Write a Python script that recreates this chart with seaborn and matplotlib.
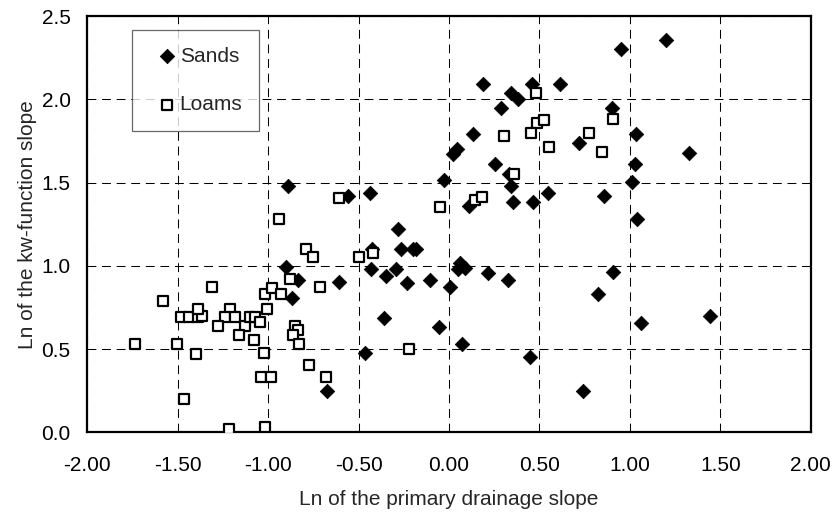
import matplotlib
matplotlib.use("Agg")
import matplotlib.pyplot as plt
import seaborn as sns
import pandas as pd

sands_x = [-0.89, -0.90, -0.835, -0.87, -0.675, -0.56, -0.435, -0.28, -0.425, -0.267,
           -0.20, -0.18, -0.433, -0.35, -0.296, -0.23, -0.106, 0.003, 0.06, 0.087,
           0.05, 0.213, 0.325, -0.608, -0.36, -0.053, 0.069, 0.447, -0.464, 1.20,
           0.952, 0.19, 0.46, 0.613, 0.34, 0.38, 0.287, 0.902, 0.133, 1.033,
           0.72, 1.325, 0.044, 0.023, 0.255, 1.028, -0.03, 1.01, 0.343, 0.111,
           0.355, 0.465, 0.548, 0.857, 1.041, 0.904, 0.821, 1.059, 1.442, 0.742,
           0.33]
sands_y = [1.48, 0.995, 0.915, 0.81, 0.25, 1.42, 1.435, 1.22, 1.10, 1.10,
           1.10, 1.10, 0.98, 0.94, 0.98, 0.90, 0.915, 0.875, 1.015, 0.99,
           0.98, 0.955, 0.915, 0.905, 0.69, 0.635, 0.53, 0.455, 0.475, 2.355,
           2.305, 2.09, 2.09, 2.09, 2.04, 2.00, 1.948, 1.948, 1.793, 1.792,
           1.74, 1.676, 1.704, 1.671, 1.61, 1.61, 1.517, 1.506, 1.481, 1.362,
           1.386, 1.386, 1.436, 1.42, 1.28, 0.965, 0.831, 0.655, 0.701, 0.251,
           1.55]

loams_x = [-0.94, -0.79, -0.75, -0.879, -0.716, -1.308, -1.58, -1.02, -0.977, -0.927,
           -1.005, -1.484, -1.436, -1.388, -1.366, -1.388, -1.212, -1.237, -1.186, -1.275,
           -1.128, -1.162, -1.099, -1.073, -1.044, -1.08, -1.023, -0.853, -0.835, -0.862,
           -0.829, -1.736, -1.504, -1.399, -0.775, -1.037, -0.986, -0.682, -1.467, -1.214,
           -1.019, -0.611, -0.42, -0.497, -0.221, -0.051, 0.143, 0.182, 0.357, 0.555,
           0.483, 0.904, 0.487, 0.524, 0.454, 0.302, 0.773, 0.847]
loams_y = [1.28, 1.10, 1.053, 0.92, 0.875, 0.875, 0.789, 0.83, 0.868, 0.832,
           0.742, 0.691, 0.691, 0.691, 0.699, 0.744, 0.744, 0.691, 0.691, 0.639,
           0.639, 0.586, 0.691, 0.691, 0.665, 0.553, 0.48, 0.642, 0.615, 0.587,
           0.53, 0.529, 0.53, 0.469, 0.404, 0.333, 0.333, 0.333, 0.201, 0.023,
           0.031, 1.41, 1.079, 1.052, 0.499, 1.356, 1.394, 1.415, 1.552, 1.714,
           2.036, 1.88, 1.858, 1.876, 1.798, 1.782, 1.80, 1.684]

x_ticks = [-2.0, -1.5, -1.0, -0.5, 0.0, 0.5, 1.0, 1.5, 2.0]
y_ticks = [0.0, 0.5, 1.0, 1.5, 2.0, 2.5]

df = pd.concat([
    pd.DataFrame({"x": sands_x, "y": sands_y, "soil": "Sands"}),
    pd.DataFrame({"x": loams_x, "y": loams_y, "soil": "Loams"}),
], ignore_index=True)

sns.set_style("white")
plt.rcParams["font.family"] = ["Liberation Sans", "DejaVu Sans"]

FS = 15
fig = plt.figure(figsize=(8.37, 5.17), dpi=100)
ax = fig.add_axes([0.1043, 0.1635, 0.8644, 0.8055])

sns.scatterplot(data=df[df.soil == "Sands"], x="x", y="y", marker="D", s=55,
                color="black", edgecolor="black", linewidth=0.5, ax=ax,
                label="Sands", zorder=3)
sns.scatterplot(data=df[df.soil == "Loams"], x="x", y="y", marker="s", s=42,
                facecolor="white", edgecolor="black", linewidth=1.6, ax=ax,
                label="Loams", zorder=4)

ax.set_xlim(-2.0, 2.0)
ax.set_ylim(0.0, 2.5)
ax.set_xticks(x_ticks)
ax.set_yticks(y_ticks)
ax.set_xticklabels([f"{v:.2f}" for v in x_ticks])
ax.set_yticklabels([f"{v:.1f}" for v in y_ticks])
ax.grid(True, color="black", linestyle=(0, (8.5, 5.5)), linewidth=0.75)
ax.set_axisbelow(True)
for sp in ax.spines.values():
    sp.set_visible(True)
    sp.set_color("black")
    sp.set_linewidth(1.6)
ax.tick_params(axis="x", direction="out", length=4, width=1, colors="black",
               labelsize=FS, pad=13)
ax.tick_params(axis="y", direction="out", length=0, colors="black",
               labelsize=FS, pad=12)
ax.set_xlabel("Ln of the primary drainage slope", fontsize=FS, labelpad=11)
ax.set_ylabel("Ln of the kw-function slope", fontsize=FS, labelpad=3)

leg = ax.legend(loc="upper left", bbox_to_anchor=(0.0614, 0.966), borderaxespad=0,
                frameon=True, fancybox=False, edgecolor="#444444", fontsize=FS,
                handletextpad=-0.25, labelspacing=1.4, borderpad=0.8,
                handlelength=1.75, markerscale=1.0)
leg.get_frame().set_linewidth(0.9)

fig.savefig("out.png", dpi=100)
